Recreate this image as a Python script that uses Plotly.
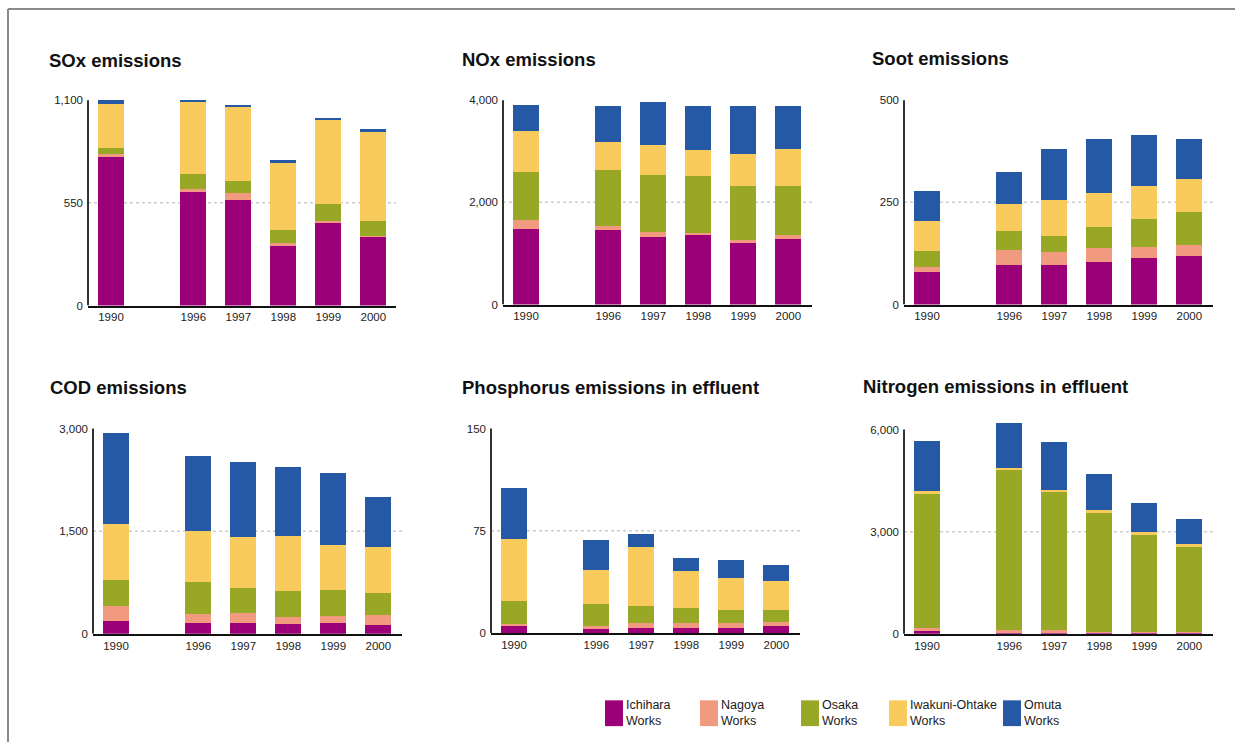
import plotly.graph_objects as go

# ---- data -------------------------------------------------------------
years = ["1990", "1996", "1997", "1998", "1999", "2000"]
works = ["Ichihara", "Nagoya", "Osaka", "Iwakuni-Ohtake", "Omuta"]
colors = ["#9c0078", "#f29a80", "#98a826", "#f8cb5c", "#2558a5"]

# each list holds one series per works, in the order of `works`
sox = [
    [795, 609, 567, 317, 445, 370],
    [16, 16, 37, 21, 10, 5],
    [32, 80, 64, 69, 90, 80],
    [239, 388, 398, 362, 452, 473],
    [21, 10, 11, 10, 5, 16],
]
nox = [
    [1489, 1469, 1333, 1353, 1197, 1294],
    [174, 78, 97, 58, 59, 78],
    [932, 1087, 1107, 1107, 1067, 951],
    [796, 544, 583, 504, 622, 719],
    [525, 718, 854, 874, 951, 854],
]
soot = [
    [79, 96, 96, 104, 113, 118],
    [12, 37, 32, 34, 29, 29],
    [39, 48, 41, 53, 68, 80],
    [75, 66, 87, 82, 80, 80],
    [73, 77, 124, 132, 124, 98],
]
cod = [
    [184, 155, 155, 141, 155, 126],
    [218, 131, 146, 101, 102, 145],
    [378, 465, 363, 378, 378, 320],
    [815, 742, 742, 800, 654, 669],
    [1337, 1105, 1105, 1018, 1062, 742],
]
phosphorus = [
    [4.9, 2.7, 3.4, 3.4, 3.4, 4.9],
    [1.4, 2.2, 3.6, 3.6, 3.6, 2.9],
    [16.8, 16.0, 12.4, 11.0, 9.5, 8.7],
    [45.8, 24.7, 43.7, 26.9, 23.3, 21.1],
    [37.2, 22.6, 9.5, 10.2, 13.8, 11.7],
]
nitrogen = [
    [68, 39, 39, 39, 39, 39],
    [87, 58, 58, 19, 19, 19],
    [3948, 4732, 4064, 3494, 2855, 2506],
    [87, 29, 58, 87, 58, 58],
    [1452, 1335, 1394, 1045, 871, 755],
]

titles = ["SOx emissions", "NOx emissions", "Soot emissions",
          "COD emissions", "Phosphorus emissions in effluent",
          "Nitrogen emissions in effluent"]
axis_max = [1100, 4000, 500, 3000, 150, 6000]
series = [sox, nox, soot, cod, phosphorus, nitrogen]

# ---- layout geometry (pixels in a 1235 x 748 page) ---------------------
W, H = 1235, 748
# x0, x1, y of max tick, y of zero, title x, title y
boxes = [
    (88, 396, 101, 308, 47, 61),
    (503, 812, 101, 307, 460, 60),
    (904, 1213, 101, 307, 870, 59),
    (93, 402, 432, 639, 48, 391),
    (491, 800, 432, 638, 460, 391),
    (904, 1213, 433, 639, 861, 390),
]
slot = 45.0                      # pixels between neighbouring years
x_pos = [0, 1.83, 2.83, 3.83, 4.83, 5.83]
bar_w = 26 / slot
head = 1.06                      # head-room above the top tick

TXT = "#222222"
FONT = "Liberation Sans, Arial, sans-serif"

fig = go.Figure()
shapes = []
annotations = []
layout_axes = {}

for i, (title, data, ymax, box) in enumerate(zip(titles, series, axis_max, boxes)):
    n = i + 1
    sfx = "" if n == 1 else str(n)
    x0, x1, ytop, ybot, tx, ty = box
    for name, vals, col in zip(works, data, colors):
        fig.add_trace(go.Bar(
            x=x_pos, y=vals, width=bar_w, name=name + " Works",
            marker=dict(color=col, line=dict(width=0)),
            xaxis="x" + sfx, yaxis="y" + sfx, showlegend=False,
        ))
    left = -23 / slot
    right = (x1 - x0 - 23) / slot
    dom_top = ybot - (ybot - ytop) * head
    layout_axes["xaxis" + sfx] = dict(
        domain=[x0 / W, x1 / W], range=[left, right], anchor="y" + sfx,
        tickmode="array", tickvals=x_pos, ticktext=years,
        showline=True, linecolor="#111111", linewidth=2, ticks="",
        showgrid=False, zeroline=False, fixedrange=True,
        tickfont=dict(family=FONT, size=11.5, color=TXT),
    )
    step = ymax / 2
    tv = [0, step, ymax]
    tt = [f"{v:,.0f}" for v in tv]
    layout_axes["yaxis" + sfx] = dict(
        domain=[1 - ybot / H, 1 - dom_top / H], range=[0, ymax * head],
        anchor="x" + sfx, tickmode="array", tickvals=tv, ticktext=tt,
        showline=False, ticks="", showgrid=False, zeroline=False,
        fixedrange=True, ticklabelstandoff=4,
        tickfont=dict(family=FONT, size=11.5, color=TXT),
    )
    # dotted mid-scale guide
    shapes.append(dict(type="line", xref="x" + sfx + " domain", yref="y" + sfx,
                       x0=0, x1=1, y0=step, y1=step, layer="below",
                       line=dict(color="#cccccc", width=1.5, dash="dot")))
    # value axis drawn up to the top tick only
    shapes.append(dict(type="line", xref="x" + sfx + " domain", yref="y" + sfx,
                       x0=0, x1=0, y0=0, y1=ymax,
                       line=dict(color="#333333", width=2)))
    annotations.append(dict(text="<b>" + title + "</b>", xref="paper", yref="paper",
                            x=tx / W, y=1 - ty / H, xanchor="left", yanchor="middle",
                            showarrow=False,
                            font=dict(family=FONT, size=18.5, color="#111111")))

# page frame
shapes.append(dict(type="line", xref="paper", yref="paper",
                   x0=8 / W, x1=1, y0=1 - 9 / H, y1=1 - 9 / H,
                   line=dict(color="#8a8a8a", width=2)))
shapes.append(dict(type="line", xref="paper", yref="paper",
                   x0=8 / W, x1=8 / W, y0=0, y1=1 - 9 / H,
                   line=dict(color="#8a8a8a", width=2)))

# key along the bottom
key_x = [605, 700, 801, 889, 1003]
LEG_FONT = "Liberation Sans Narrow, Arial Narrow, Liberation Sans, Arial, sans-serif"
for kx, name, col in zip(key_x, works, colors):
    shapes.append(dict(type="rect", xref="paper", yref="paper",
                       x0=kx / W, x1=(kx + 18) / W,
                       y0=1 - 732 / H, y1=1 - 706 / H,
                       fillcolor=col, line=dict(width=0)))
    annotations.append(dict(text=name + "<br>Works", xref="paper", yref="paper",
                            x=(kx + 19) / W, y=1 - 719 / H,
                            xanchor="left", yanchor="middle", align="left",
                            showarrow=False,
                            font=dict(family=LEG_FONT, size=12.5, color="#1a1a1a")))

fig.update_layout(
    width=W, height=H, margin=dict(l=0, r=0, t=0, b=0),
    paper_bgcolor="white", plot_bgcolor="white",
    barmode="stack", bargap=0,
    shapes=shapes, annotations=annotations,
    **layout_axes,
)

fig.write_html("out.html")
